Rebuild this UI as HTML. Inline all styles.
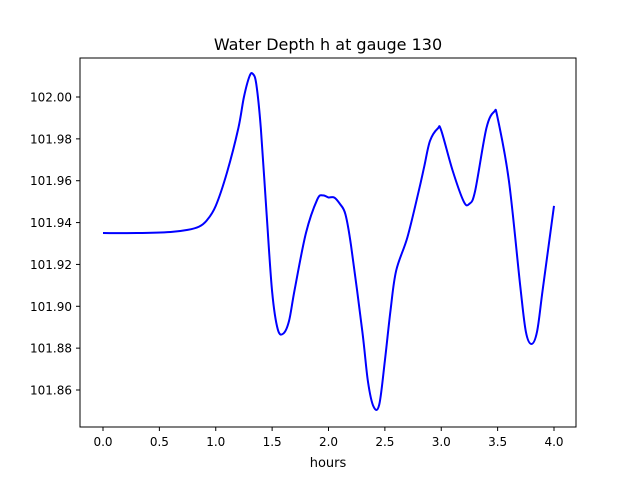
<!DOCTYPE html>
<html><head><meta charset="utf-8"><style>
body{margin:0;background:#fff;font-family:"Liberation Sans","DejaVu Sans",sans-serif;}
svg text{font-family:"DejaVu Sans","Liberation Sans",sans-serif;}
</style></head><body>
<svg id="chart" width="640" height="480" xmlns="http://www.w3.org/2000/svg">
<rect width="640" height="480" fill="#fff"/>
<text x="328" y="50" font-size="16" text-anchor="middle">Water Depth h at gauge 130</text>
<g id="axes"></g>
<path id="line" fill="none" stroke="#0000ff" stroke-width="2"/>
<rect x="80" y="58" width="496" height="369" fill="none" stroke="#000" stroke-width="1"/>
<text x="328" y="467" font-size="13" text-anchor="middle">hours</text>
</svg>
<script>
const xTicks=[0,0.5,1,1.5,2,2.5,3,3.5,4];
const xTickLabels=["0.0","0.5","1.0","1.5","2.0","2.5","3.0","3.5","4.0"];
const yTicks=[101.86,101.88,101.90,101.92,101.94,101.96,101.98,102.00];
const yTickLabels=["101.86","101.88","101.90","101.92","101.94","101.96","101.98","102.00"];
const times=[0,0.3,0.6,0.75,0.85,0.92,1.0,1.1,1.2,1.25,1.3,1.33,1.36,1.4,1.45,1.5,1.55,1.6,1.65,1.7,1.8,1.9,1.95,2.0,2.05,2.1,2.15,2.2,2.3,2.35,2.4,2.45,2.5,2.55,2.6,2.7,2.8,2.85,2.9,2.97,3.0,3.1,3.2,3.25,3.3,3.4,3.47,3.5,3.6,3.7,3.75,3.8,3.85,3.9,4.0];
const depth=[101.935,101.935,101.9355,101.9365,101.938,101.941,101.948,101.964,101.985,102.0,102.01,102.011,102.006,101.985,101.945,101.907,101.889,101.887,101.893,101.908,101.935,101.951,101.953,101.952,101.952,101.949,101.944,101.929,101.888,101.864,101.852,101.853,101.874,101.898,101.917,101.933,101.955,101.967,101.979,101.985,101.984,101.965,101.95,101.949,101.955,101.985,101.993,101.99,101.96,101.91,101.888,101.882,101.888,101.908,101.948];
const X=v=>103+(v-0)*(554-103)/4;
const Y=v=>97+(102-v)*(390-97)/0.14;
const NS="http://www.w3.org/2000/svg";
const ax=document.getElementById('axes');
xTicks.forEach((t,i)=>{
 const l=document.createElementNS(NS,'line');
 
 
 l.setAttribute('x1',X(t));l.setAttribute('x2',X(t));l.setAttribute('y1',427);l.setAttribute('y2',431);l.setAttribute('stroke','#000');
 ax.appendChild(l);
 const tx=document.createElementNS(NS,'text');
 
 
 tx.setAttribute('x',X(t));tx.setAttribute('y',446);tx.setAttribute('font-size','12');tx.setAttribute('text-anchor','middle');
 tx.textContent=xTickLabels[i];ax.appendChild(tx);
});
yTicks.forEach((t,i)=>{
 const l=document.createElementNS(NS,'line');
 
 
 l.setAttribute('x1',76);l.setAttribute('x2',80);l.setAttribute('y1',Y(t));l.setAttribute('y2',Y(t));l.setAttribute('stroke','#000');
 ax.appendChild(l);
 const tx=document.createElementNS(NS,'text');
 
 
 tx.setAttribute('x',72);tx.setAttribute('y',Y(t)+4.5);tx.setAttribute('font-size','12');tx.setAttribute('text-anchor','end');
 tx.textContent=yTickLabels[i];ax.appendChild(tx);
});
// Catmull-Rom smooth path
const pts=times.map((t,i)=>[X(t),Y(depth[i])]);
let d=`M${pts[0][0]},${pts[0][1]}`;
for(let i=0;i<pts.length-1;i++){
 const p0=pts[Math.max(0,i-1)],p1=pts[i],p2=pts[i+1],p3=pts[Math.min(pts.length-1,i+2)];
 const c1=[p1[0]+(p2[0]-p0[0])/6,p1[1]+(p2[1]-p0[1])/6];
 const c2=[p2[0]-(p3[0]-p1[0])/6,p2[1]-(p3[1]-p1[1])/6];
 d+=` C${c1[0]},${c1[1]} ${c2[0]},${c2[1]} ${p2[0]},${p2[1]}`;
}
document.getElementById('line').setAttribute('d',d);
</script>
</body></html>
